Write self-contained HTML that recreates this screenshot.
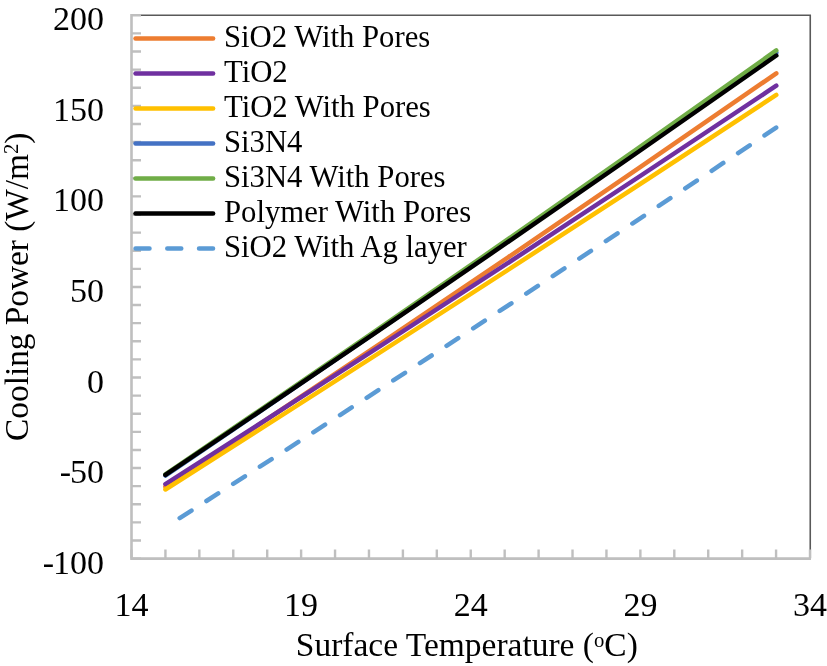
<!DOCTYPE html>
<html><head><meta charset="utf-8"><style>
html,body{margin:0;padding:0;background:#fff;overflow:hidden}
svg{display:block;will-change:transform}
.ax{font-family:"Liberation Serif",serif;font-size:34px;fill:#000}
.lg{font-family:"Liberation Serif",serif;font-size:30.7px;fill:#000}
</style></head><body>
<svg width="827" height="666" viewBox="0 0 827 666">
<rect width="827" height="666" fill="#fff"/>
<path d="M131.5 15.2 H810.25 V558.6" fill="none" stroke="#595959" stroke-width="1.6"/>
<path d="M131.5 15.30H141 M131.5 33.41H141 M131.5 51.52H141 M131.5 69.63H141 M131.5 87.74H141 M131.5 105.85H141 M131.5 123.96H141 M131.5 142.07H141 M131.5 160.18H141 M131.5 178.29H141 M131.5 196.40H141 M131.5 214.51H141 M131.5 232.62H141 M131.5 250.73H141 M131.5 268.84H141 M131.5 286.95H141 M131.5 305.06H141 M131.5 323.17H141 M131.5 341.28H141 M131.5 359.39H141 M131.5 377.50H141 M131.5 395.61H141 M131.5 413.72H141 M131.5 431.83H141 M131.5 449.94H141 M131.5 468.05H141 M131.5 486.16H141 M131.5 504.27H141 M131.5 522.38H141 M131.5 540.49H141 M131.5 558.60H141 M131.50 558.6V549.5 M165.43 558.6V549.5 M199.35 558.6V549.5 M233.27 558.6V549.5 M267.20 558.6V549.5 M301.12 558.6V549.5 M335.05 558.6V549.5 M368.97 558.6V549.5 M402.90 558.6V549.5 M436.82 558.6V549.5 M470.75 558.6V549.5 M504.67 558.6V549.5 M538.60 558.6V549.5 M572.52 558.6V549.5 M606.45 558.6V549.5 M640.38 558.6V549.5 M674.30 558.6V549.5 M708.22 558.6V549.5 M742.15 558.6V549.5 M776.07 558.6V549.5 M810.00 558.6V549.5" stroke="#bfbfbf" stroke-width="2.4" fill="none"/>
<path d="M131.5 14 V558.6 H811" fill="none" stroke="#bfbfbf" stroke-width="2.6"/>
<path d="M165.4 486.7Q470.85 285.20 776.3 73.3" fill="none" stroke="#ED7D31" stroke-width="4.5" stroke-linecap="round"/>
<path d="M165.4 484.1Q470.85 289.50 776.3 85.7" fill="none" stroke="#7030A0" stroke-width="4.5" stroke-linecap="round"/>
<path d="M165.4 489.5Q470.85 295.60 776.3 94.9" fill="none" stroke="#FFC000" stroke-width="4.5" stroke-linecap="round"/>
<path d="M165.4 475.6Q470.85 268.85 776.3 52.5" fill="none" stroke="#4472C4" stroke-width="4.5" stroke-linecap="round"/>
<path d="M165.4 474.4Q470.85 267.62 776.3 50.45" fill="none" stroke="#70AD47" stroke-width="4.5" stroke-linecap="round"/>
<path d="M165.4 474.9Q470.85 269.80 776.3 55.5" fill="none" stroke="#000000" stroke-width="4.5" stroke-linecap="round"/>
<path d="M179.7 518.1Q478.00 327.60 776.3 127.5" fill="none" stroke="#5B9BD5" stroke-width="4.5" stroke-linecap="round" stroke-dasharray="14 17.77"/>
<line x1="135.5" y1="38.5" x2="213.1" y2="38.5" stroke="#ED7D31" stroke-width="4.5" stroke-linecap="round"/>
<text transform="translate(224,47.3) scale(1.0,1)" class="lg">SiO2 With Pores</text>
<line x1="135.5" y1="73.5" x2="213.1" y2="73.5" stroke="#7030A0" stroke-width="4.5" stroke-linecap="round"/>
<text transform="translate(224,82.3) scale(1.0,1)" class="lg">TiO2</text>
<line x1="135.5" y1="108.5" x2="213.1" y2="108.5" stroke="#FFC000" stroke-width="4.5" stroke-linecap="round"/>
<text transform="translate(224,117.3) scale(1.0,1)" class="lg">TiO2 With Pores</text>
<line x1="135.5" y1="143.5" x2="213.1" y2="143.5" stroke="#4472C4" stroke-width="4.5" stroke-linecap="round"/>
<text transform="translate(224,152.3) scale(1.0,1)" class="lg">Si3N4</text>
<line x1="135.5" y1="178.5" x2="213.1" y2="178.5" stroke="#70AD47" stroke-width="4.5" stroke-linecap="round"/>
<text transform="translate(224,187.3) scale(1.0,1)" class="lg">Si3N4 With Pores</text>
<line x1="135.5" y1="213.5" x2="213.1" y2="213.5" stroke="#000000" stroke-width="4.5" stroke-linecap="round"/>
<text transform="translate(224,222.3) scale(1.0,1)" class="lg">Polymer With Pores</text>
<line x1="135.5" y1="248.5" x2="213.1" y2="248.5" stroke="#5B9BD5" stroke-width="4.5" stroke-linecap="round" stroke-dasharray="14 17.77"/>
<text transform="translate(224,257.3) scale(1.0,1)" class="lg">SiO2 With Ag layer</text>
<text x="103.9" y="30.2" class="ax" text-anchor="end">200</text>
<text x="103.9" y="120.8" class="ax" text-anchor="end">150</text>
<text x="103.9" y="211.4" class="ax" text-anchor="end">100</text>
<text x="103.9" y="302.0" class="ax" text-anchor="end">50</text>
<text x="103.9" y="392.6" class="ax" text-anchor="end">0</text>
<text x="103.9" y="483.2" class="ax" text-anchor="end">-<tspan dx="-1.3">50</tspan></text>
<text x="103.9" y="573.8" class="ax" text-anchor="end">-<tspan dx="-1.3">100</tspan></text>
<text x="131.5" y="616.2" class="ax" text-anchor="middle">14</text>
<text x="301.1" y="616.2" class="ax" text-anchor="middle">19</text>
<text x="470.8" y="616.2" class="ax" text-anchor="middle">24</text>
<text x="640.4" y="616.2" class="ax" text-anchor="middle">29</text>
<text x="810.0" y="616.2" class="ax" text-anchor="middle">34</text>
<text transform="translate(295.8,656.3) scale(0.985,1)" class="ax">Surface Temperature (<tspan font-size="21" dy="-9.2">o</tspan><tspan dy="9.2">C)</tspan></text>
<text transform="translate(28.0,440.9) rotate(-90) scale(0.98,1)" class="ax">Cooling Power (W/m<tspan font-size="21" dy="-10.4">2</tspan><tspan dy="10.4">)</tspan></text>
</svg>
</body></html>
